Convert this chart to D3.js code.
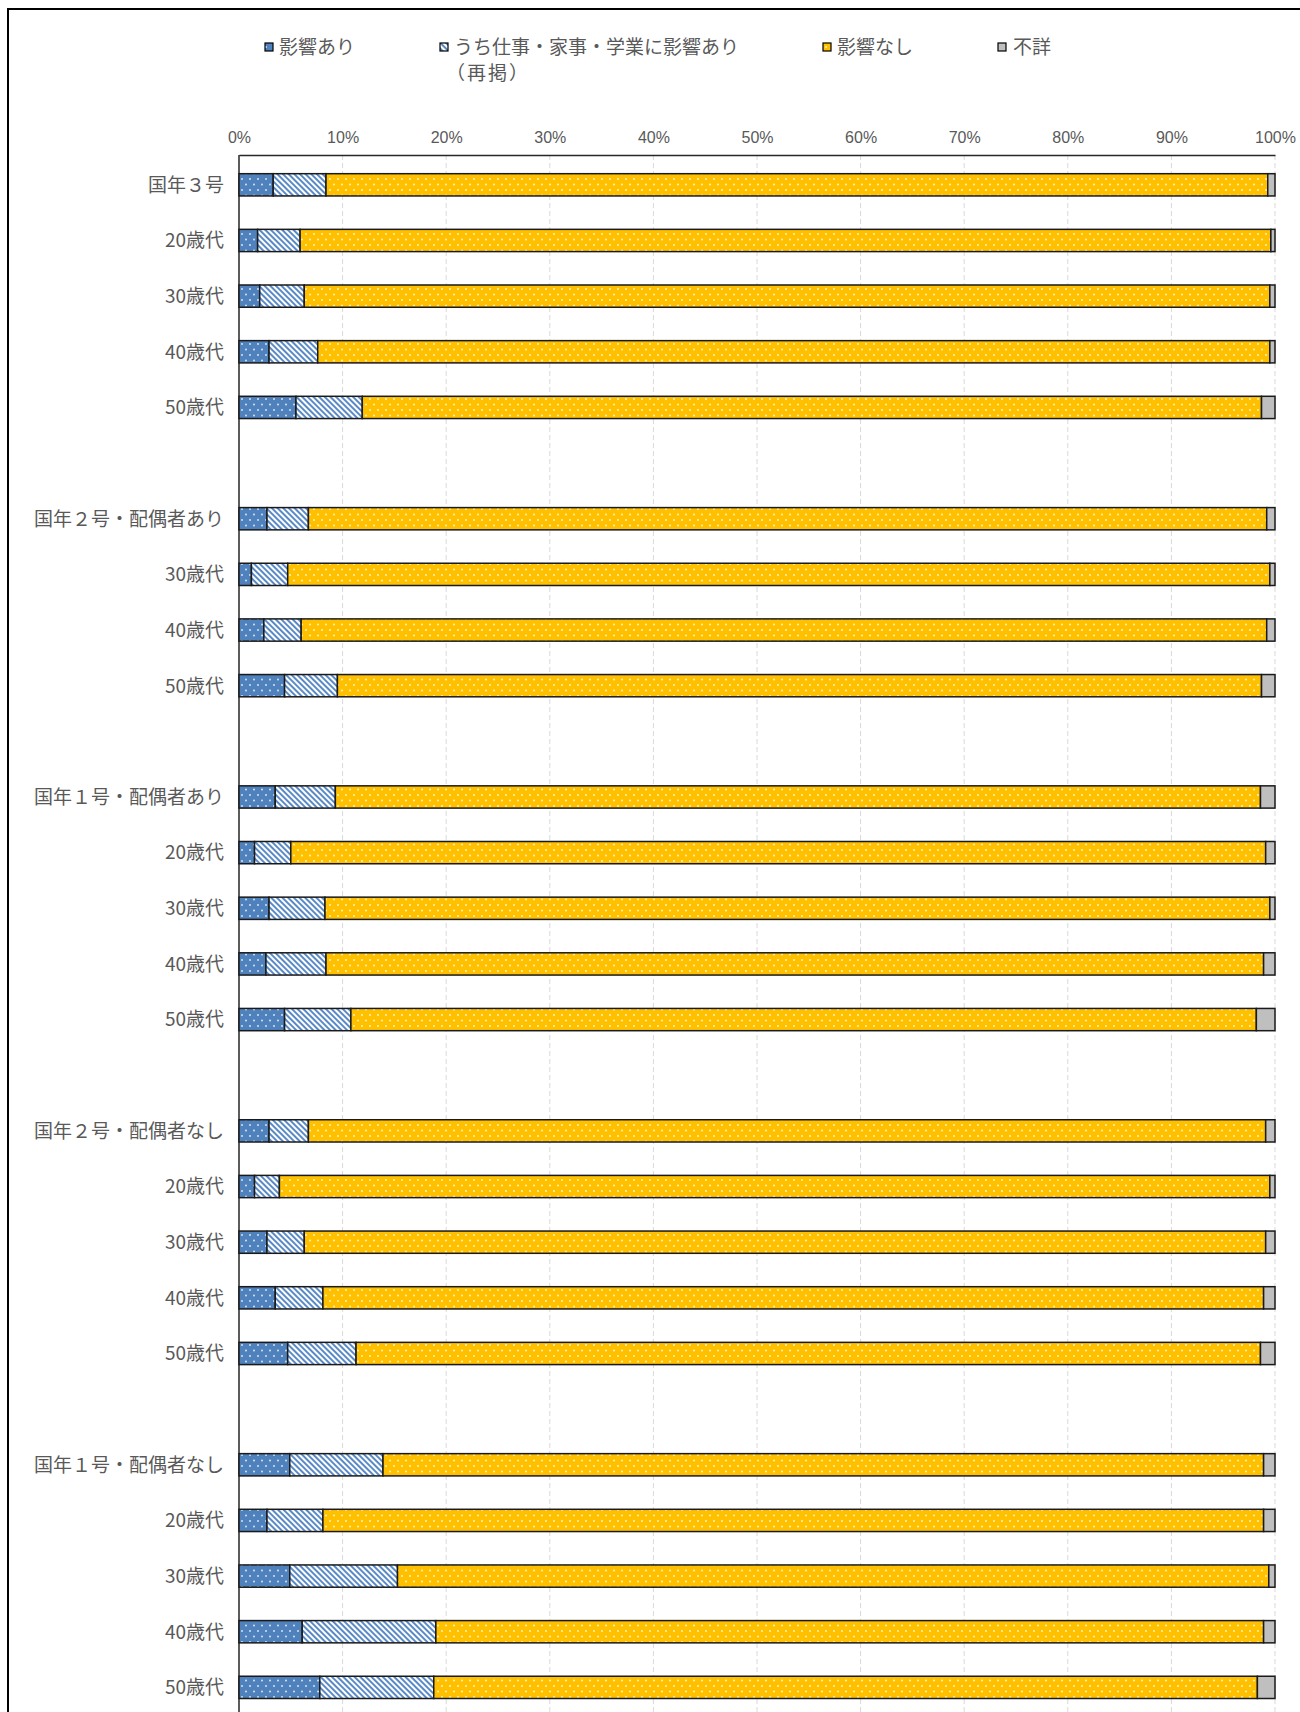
<!DOCTYPE html>
<html>
<head>
<meta charset="utf-8">
<script src="https://cdn.jsdelivr.net/npm/d3@7"></script>
<style>
  body { margin: 0; background: #fff; }
  text { font-family: "Noto Sans CJK JP", "Noto Sans", sans-serif; fill: #595959; }
  .tick-label { font-family: "Liberation Sans Narrow", "Liberation Sans", sans-serif; }
</style>
</head>
<body>
<div id="chart"></div>
<script>
// rows, "" = empty spacer row between groups
const categories = [
  "国年３号", "20歳代", "30歳代", "40歳代", "50歳代", "",
  "国年２号・配偶者あり", "30歳代", "40歳代", "50歳代", "",
  "国年１号・配偶者あり", "20歳代", "30歳代", "40歳代", "50歳代", "",
  "国年２号・配偶者なし", "20歳代", "30歳代", "40歳代", "50歳代", "",
  "国年１号・配偶者なし", "20歳代", "30歳代", "40歳代", "50歳代"
];

const affected = [3.3, 1.8, 2.0, 2.9, 5.5, null, 2.7, 1.2, 2.4, 4.4, null,
  3.5, 1.5, 2.9, 2.6, 4.4, null, 2.9, 1.5, 2.7, 3.5, 4.7, null,
  4.9, 2.7, 4.9, 6.1, 7.8];
const workAffected = [5.1, 4.1, 4.3, 4.7, 6.4, null, 4.0, 3.5, 3.6, 5.1, null,
  5.8, 3.5, 5.4, 5.8, 6.4, null, 3.8, 2.4, 3.6, 4.6, 6.6, null,
  9.0, 5.4, 10.4, 12.9, 11.0];
const notAffected = [90.9, 93.7, 93.2, 91.9, 86.8, null, 92.5, 94.8, 93.2, 89.2, null,
  89.3, 94.1, 91.2, 90.5, 87.4, null, 92.4, 95.6, 92.8, 90.8, 87.3, null,
  85.0, 90.8, 84.1, 79.9, 79.5];
const unknown = [0.7, 0.4, 0.5, 0.5, 1.3, null, 0.8, 0.5, 0.8, 1.3, null,
  1.4, 0.9, 0.5, 1.1, 1.8, null, 0.9, 0.5, 0.9, 1.1, 1.4, null,
  1.1, 1.1, 0.6, 1.1, 1.7];

const seriesNames = ["影響あり", "うち仕事・家事・学業に影響あり", "影響なし", "不詳"];
const tickValues = [0, 10, 20, 30, 40, 50, 60, 70, 80, 90, 100];

const width = 1300;
const height = 1712;
const plotLeft = 239, plotRight = 1275, plotTop = 155;

const svg = d3.select("#chart").append("svg")
  .attr("width", width).attr("height", height);

// patterns
const defs = svg.append("defs");
function dotPattern(id, color) {
  const p = defs.append("pattern").attr("id", id)
    .attr("patternUnits", "userSpaceOnUse").attr("width", 8).attr("height", 11);
  p.append("rect").attr("width", 8).attr("height", 11).attr("fill", color);
  p.append("circle").attr("cx", 2).attr("cy", 3).attr("r", 0.9).attr("fill", "#fff").attr("opacity", 0.85);
  p.append("circle").attr("cx", 6).attr("cy", 8.5).attr("r", 0.9).attr("fill", "#fff").attr("opacity", 0.85);
}
dotPattern("dotBlue", "#4F81BD");
dotPattern("dotYellow", "#FFC000");
const hatch = defs.append("pattern").attr("id", "hatch")
  .attr("patternUnits", "userSpaceOnUse").attr("width", 4).attr("height", 4)
  .attr("patternTransform", "rotate(-45)");
hatch.append("rect").attr("width", 4).attr("height", 4).attr("fill", "#fff");
hatch.append("rect").attr("width", 2).attr("height", 4).attr("fill", "#5A8AC6");

const fills = ["url(#dotBlue)", "url(#hatch)", "url(#dotYellow)", "#BFBFBF"];

// outer frame
svg.append("rect").attr("x", 8).attr("y", 9).attr("width", width).attr("height", height)
  .attr("fill", "none").attr("stroke", "#000").attr("stroke-width", 2);

const x = d3.scaleLinear().domain([0, 100]).range([plotLeft, plotRight]);
const y = d3.scaleBand().domain(d3.range(categories.length))
  .range([157, 157 + categories.length * 55.65])
  .paddingInner(0.6).paddingOuter(0.3);

// gridlines
svg.append("g").selectAll("line").data(tickValues.slice(1)).join("line")
  .attr("x1", d => x(d)).attr("x2", d => x(d))
  .attr("y1", plotTop).attr("y2", height)
  .attr("stroke", "#d9d9d9").attr("stroke-width", 1).attr("stroke-dasharray", "5,3");

// top axis
const xAxis = svg.append("g").attr("transform", `translate(0,${plotTop})`)
  .call(d3.axisTop(x).tickValues(tickValues).tickFormat(d => d + "%").tickSize(0).tickPadding(12));
xAxis.select(".domain").attr("stroke", "#262626").attr("stroke-width", 1.5);
xAxis.selectAll("text").attr("class", "tick-label").attr("font-size", 16).attr("fill", "#595959");

// left axis line
svg.append("line").attr("x1", plotLeft).attr("x2", plotLeft)
  .attr("y1", plotTop).attr("y2", height).attr("stroke", "#262626").attr("stroke-width", 1.5);

// category labels
svg.append("g").selectAll("text").data(categories).join("text")
  .attr("x", 224).attr("y", (d, i) => y(i) + y.bandwidth() / 2)
  .attr("dy", "0.36em").attr("text-anchor", "end").attr("font-size", 19)
  .text(d => d);

// stacked bars
const rows = categories.map((c, i) => ({
  i, vals: [affected[i], workAffected[i], notAffected[i], unknown[i]]
})).filter(r => r.vals[0] !== null);

const bar = svg.append("g").selectAll("g").data(rows).join("g");
bar.each(function (r) {
  let acc = 0;
  const segs = r.vals.map((v, k) => { const s = { x0: acc, x1: acc + v, k }; acc += v; return s; });
  d3.select(this).selectAll("rect").data(segs).join("rect")
    .attr("x", s => x(s.x0)).attr("width", s => x(s.x1) - x(s.x0))
    .attr("y", y(r.i)).attr("height", y.bandwidth())
    .attr("fill", s => fills[s.k])
    .attr("stroke", "#1a1a1a").attr("stroke-width", 1.5);
});

// legend
const legendPos = [[265, 279], [440, 454], [823, 837], [998, 1013]];
const legend = svg.append("g").selectAll("g").data(seriesNames).join("g");
legend.append("rect")
  .attr("x", (d, i) => legendPos[i][0]).attr("y", 43).attr("width", 8).attr("height", 8)
  .attr("fill", (d, i) => fills[i]).attr("stroke", "#000").attr("stroke-width", 1.2);
legend.append("text")
  .attr("x", (d, i) => legendPos[i][1]).attr("y", 47).attr("dy", "0.36em")
  .attr("font-size", 19).text(d => d);
svg.append("text").attr("x", 446).attr("y", 73).attr("dy", "0.36em")
  .attr("font-size", 19).attr("letter-spacing", 2).text("（再掲）");
</script>
</body>
</html>
